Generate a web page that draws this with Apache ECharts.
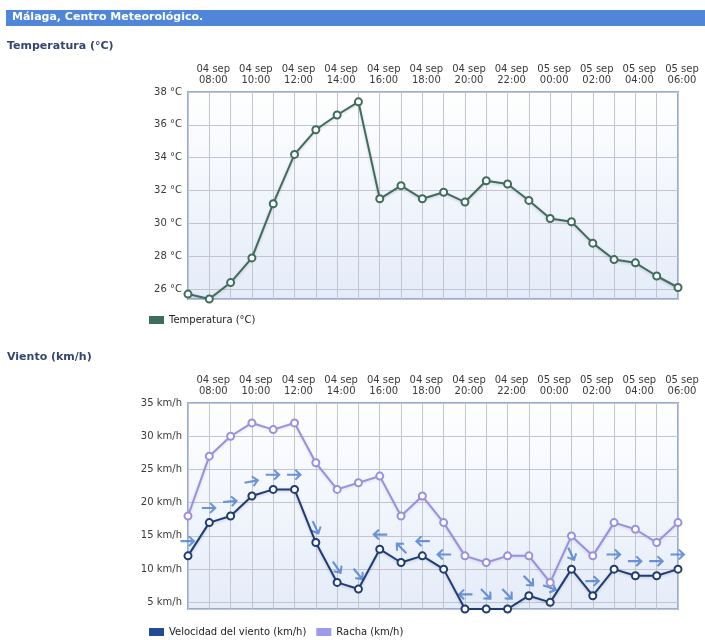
<!DOCTYPE html>
<html>
<head>
<meta charset="utf-8">
<script src="https://cdn.jsdelivr.net/npm/echarts@6/dist/echarts.min.js"></script>
<style>
  html, body { margin: 0; padding: 0; background: #fff; }
  #main { width: 705px; height: 640px; }
</style>
</head>
<body>
<div id="main"></div>
<script>
// horas: 04 sep 07:00 .. 05 sep 06:00
var horas = [
  '04 sep\n07:00', '04 sep\n08:00', '04 sep\n09:00', '04 sep\n10:00', '04 sep\n11:00', '04 sep\n12:00',
  '04 sep\n13:00', '04 sep\n14:00', '04 sep\n15:00', '04 sep\n16:00', '04 sep\n17:00', '04 sep\n18:00',
  '04 sep\n19:00', '04 sep\n20:00', '04 sep\n21:00', '04 sep\n22:00', '04 sep\n23:00', '05 sep\n00:00',
  '05 sep\n01:00', '05 sep\n02:00', '05 sep\n03:00', '05 sep\n04:00', '05 sep\n05:00', '05 sep\n06:00'
];
var temperatura = [25.7, 25.4, 26.4, 27.9, 31.2, 34.2, 35.7, 36.6, 37.4, 31.5, 32.3, 31.5,
                   31.9, 31.3, 32.6, 32.4, 31.4, 30.3, 30.1, 28.8, 27.8, 27.6, 26.8, 26.1];
var velocidad = [12, 17, 18, 21, 22, 22, 14, 8, 7, 13, 11, 12,
                 10, 4, 4, 4, 6, 5, 10, 6, 10, 9, 9, 10];
var racha = [18, 27, 30, 32, 31, 32, 26, 22, 23, 24, 18, 21,
             17, 12, 11, 12, 12, 8, 15, 12, 17, 16, 14, 17];
// direccion de procedencia del viento (grados)
var direccion = [270, 270, 265, 260, 270, 270, 335, 325, 320, 90, 135, 90,
                 90, 90, 315, 315, 315, 290, 335, 270, 270, 270, 270, 270];

var chart = echarts.init(document.getElementById('main'));

var FONT = 'DejaVu Sans';
var fondo = new echarts.graphic.LinearGradient(0, 0, 0, 1, [
  { offset: 0, color: '#ffffff' },
  { offset: 1, color: '#e4ecf9' }
]);
var gridLine = { show: true, interval: 0, lineStyle: { color: '#c2c5d0', width: 1 } };

function ejeX(gridIndex) {
  return {
    type: 'category',
    gridIndex: gridIndex,
    data: horas,
    position: 'top',
    boundaryGap: false,
    axisLine: { show: false },
    axisTick: { show: false },
    splitLine: gridLine,
    axisLabel: {
      interval: function (i) { return i % 2 === 1; },
      margin: 6,
      color: '#3a3a3a',
      fontFamily: FONT,
      fontSize: 10,
      lineHeight: 11,
      padding: [0, 0, 0, 8]
    }
  };
}

// flecha apuntando hacia donde va el viento
var flecha = 'path://M0,4 L10,4 L7,1 L8.5,0 L14,5 L8.5,10 L7,9 L10,6 L0,6 Z';
var flechas = velocidad.map(function (v, i) {
  return {
    value: [i, v + 2.2],
    symbolRotate: 90 - ((direccion[i] + 180) % 360)
  };
});

chart.setOption({
  backgroundColor: '#fff',
  animation: false,
  textStyle: { fontFamily: FONT },
  graphic: [
    { type: 'rect', shape: { x: 6, y: 10, width: 699, height: 16 }, style: { fill: '#4f86d9' } },
    { type: 'text', left: 12, top: 12,
      style: { text: 'Málaga, Centro Meteorológico.', fill: '#fff', font: 'bold 11px "DejaVu Sans"' } },
    { type: 'text', left: 7, top: 41,
      style: { text: 'Temperatura (°C)', fill: '#34466e', font: 'bold 11px "DejaVu Sans"' } },
    { type: 'text', left: 7, top: 352,
      style: { text: 'Viento (km/h)', fill: '#34466e', font: 'bold 11px "DejaVu Sans"' } }
  ],
  legend: [
    {
      left: 144, top: 310, itemWidth: 15, itemHeight: 8, itemGap: 10,
      icon: 'rect',
      textStyle: { color: '#222', fontSize: 10, fontFamily: FONT },
      data: [{ name: 'Temperatura (°C)', itemStyle: { color: '#3f6d5c', borderWidth: 0 } }]
    },
    {
      left: 144, top: 622, itemWidth: 15, itemHeight: 8, itemGap: 10,
      icon: 'rect',
      textStyle: { color: '#222', fontSize: 10, fontFamily: FONT },
      data: [
        { name: 'Velocidad del viento (km/h)', itemStyle: { color: '#244a91', borderWidth: 0 } },
        { name: 'Racha (km/h)', itemStyle: { color: '#9f9ae8', borderWidth: 0 } }
      ]
    }
  ],
  grid: [
    { left: 188, right: 27, top: 92, height: 207, show: true,
      backgroundColor: fondo, borderColor: '#93acd9', borderWidth: 2 },
    { left: 188, right: 27, top: 403, height: 206, show: true,
      backgroundColor: fondo, borderColor: '#93acd9', borderWidth: 2 }
  ],
  xAxis: [ejeX(0), ejeX(1)],
  yAxis: [
    {
      type: 'value', gridIndex: 0, min: 25.4, max: 38,
      splitNumber: 6, minInterval: 2, maxInterval: 2,
      axisLine: { show: false }, axisTick: { show: false },
      splitLine: { lineStyle: { color: '#c2c5d0' } },
      axisLabel: {
        margin: 6, color: '#3a3a3a', fontSize: 10, fontFamily: FONT,
        formatter: function (v) { return v % 2 === 0 ? v + ' °C' : ''; }
      }
    },
    {
      type: 'value', gridIndex: 1, min: 4, max: 35,
      splitNumber: 6, minInterval: 5, maxInterval: 5,
      axisLine: { show: false }, axisTick: { show: false },
      splitLine: { lineStyle: { color: '#c2c5d0' } },
      axisLabel: {
        margin: 6, color: '#3a3a3a', fontSize: 10, fontFamily: FONT,
        formatter: function (v) { return v % 5 === 0 ? v + ' km/h' : ''; }
      }
    }
  ],
  series: [
    {
      name: 'Temperatura (°C)', type: 'line', xAxisIndex: 0, yAxisIndex: 0,
      data: temperatura,
      symbol: 'circle', symbolSize: 7,
      lineStyle: { color: '#3f6d5c', width: 2, shadowColor: 'rgba(0,0,0,0.18)', shadowBlur: 3, shadowOffsetY: 1 },
      itemStyle: { color: '#fff', borderColor: '#3f6d5c', borderWidth: 2 }
    },
    {
      name: 'Racha (km/h)', type: 'line', xAxisIndex: 1, yAxisIndex: 1,
      data: racha,
      symbol: 'circle', symbolSize: 7,
      lineStyle: { color: '#9a90e0', width: 2, shadowColor: 'rgba(0,0,0,0.12)', shadowBlur: 3, shadowOffsetY: 1 },
      itemStyle: { color: '#fff', borderColor: '#9a90e0', borderWidth: 2 }
    },
    {
      name: 'Velocidad del viento (km/h)', type: 'line', xAxisIndex: 1, yAxisIndex: 1,
      data: velocidad,
      symbol: 'circle', symbolSize: 7,
      lineStyle: { color: '#1f3c75', width: 2, shadowColor: 'rgba(0,0,0,0.18)', shadowBlur: 3, shadowOffsetY: 1 },
      itemStyle: { color: '#fff', borderColor: '#1f3c75', borderWidth: 2 }
    },
    {
      name: 'Dirección', type: 'scatter', xAxisIndex: 1, yAxisIndex: 1,
      data: flechas,
      symbol: flecha, symbolSize: [15, 11],
      itemStyle: { color: '#4a7ccd' },
      silent: true, z: 1
    }
  ]
});

window.onresize = chart.resize;
</script>
</body>
</html>
